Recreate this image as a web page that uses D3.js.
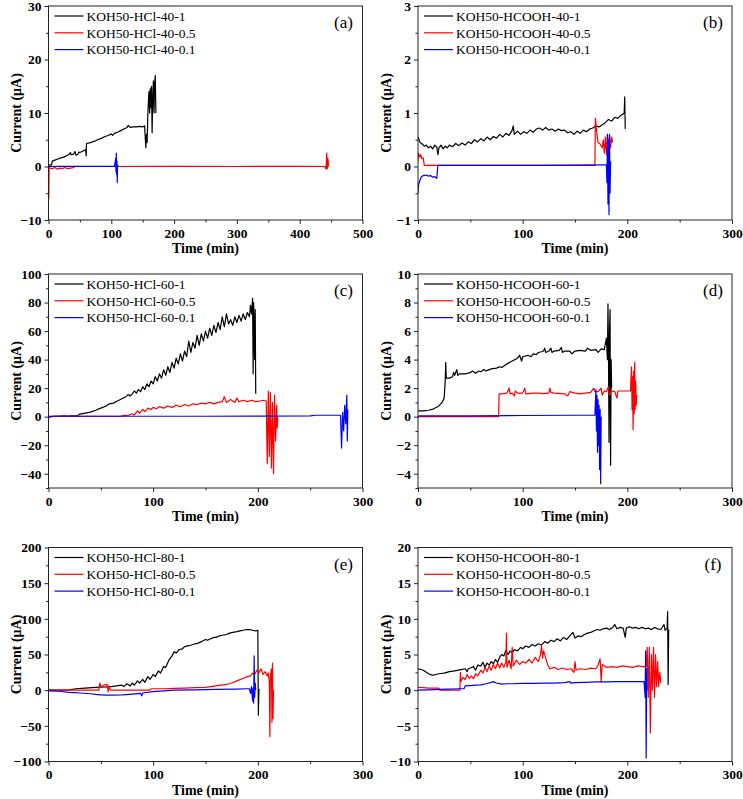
<!DOCTYPE html>
<html>
<head>
<meta charset="utf-8">
<script src="https://cdn.jsdelivr.net/npm/d3@7"></script>
<style>
  body { margin: 0; background: #fff; }
  svg { font-family: "Liberation Serif", "Times New Roman", serif; }
</style>
</head>
<body>
<div id="chart"></div>
<script>
// ---- data: [time (min), current (uA)] ----
var hcl40_1 = [[0,0.2],[3,0.3],[5,0.3],[6,1.0],[10,1.2],[15,1.4],[20,1.6],[25,1.8],[30,2.1],[33,2.3],[35,2.6],[36,2.2],[40,2.3],[42,2.8],[44,2.1],[47,2.3],[48,2.7],[50,2.6],[55,2.9],[59,3.1],[60,2.0],[60.5,4.3],[65,4.4],[70,4.6],[75,4.8],[80,5.1],[85,5.3],[90,5.6],[95,5.8],[100,6.1],[102,5.8],[105,6.2],[110,6.4],[115,6.7],[120,7.0],[125,7.3],[127,7.7],[130,7.3],[135,7.4],[140,7.4],[145,7.5],[150,7.4],[153,7.6],[154,5.5],[155,3.5],[156,6],[157,4.5],[158,9],[159,12],[160,14],[161,10],[162,14.5],[163,11],[164,15],[165,6.3],[166,13],[167,16],[168,10],[169,15.5],[170,17],[171,10]];
var hcl40_05 = [[0,0],[0.5,-6],[1,-0.2],[3,-0.3],[6,-0.4],[10,-0.2],[14,-0.5],[18,-0.3],[22,-0.4],[26,-0.2],[30,-0.4],[35,-0.3],[40,-0.2],[42,0],[100,0],[200,0.02],[300,0],[400,0.02],[440,0],[442,-0.5],[443,2.5],[444,-0.4],[445,1.5],[446,0]];
var hcl40_01 = [[0,0],[20,0.02],[50,0.02],[80,0.03],[105,0.03],[107,1.5],[107.5,-1],[108,2.5],[108.5,-1.5],[109,1],[109.5,-3],[110,0.3],[111,0.05]];

var hcooh40_1 = [[0,0.55],[1,0.5],[2,0.45],[4,0.42],[6,0.38],[8,0.4],[10,0.35],[12,0.38],[14,0.33],[16,0.4],[18,0.36],[19,0.22],[20,0.35],[22,0.4],[24,0.33],[26,0.38],[28,0.35],[30,0.4],[33,0.37],[36,0.43],[39,0.39],[42,0.44],[45,0.4],[48,0.46],[51,0.43],[54,0.5],[57,0.46],[60,0.52],[63,0.48],[66,0.55],[69,0.5],[72,0.56],[75,0.53],[78,0.6],[81,0.55],[84,0.62],[87,0.58],[90,0.68],[91,0.76],[92,0.6],[95,0.66],[98,0.6],[101,0.65],[104,0.62],[107,0.68],[110,0.64],[113,0.7],[116,0.72],[119,0.68],[122,0.73],[125,0.68],[128,0.7],[131,0.66],[134,0.7],[137,0.67],[140,0.68],[143,0.63],[146,0.65],[149,0.6],[152,0.66],[155,0.62],[158,0.68],[161,0.65],[164,0.7],[167,0.72],[170,0.76],[173,0.74],[176,0.78],[179,0.82],[182,0.88],[185,0.85],[188,0.92],[191,0.9],[194,0.96],[196,0.98],[197,1.0],[197.5,1.3],[198,0.7]];
var hcooh40_05 = [[0,0.1],[0.5,0.25],[1.5,0.18],[2.5,0.22],[3.5,0.15],[5,0.16],[6,0.02],[50,0.02],[100,0.02],[169,0.02],[169.5,0.9],[171,0.6],[172,0.45],[174,0.42],[176,0.35],[177,0.5],[178,0.25],[179,0.55],[180,0.22],[181,0.6],[182,0.3],[183,0.58],[184,0.35],[185,0.55],[186,0.45]];
var hcooh40_01 = [[0,-0.5],[0.5,-0.35],[1.5,-0.28],[3,-0.2],[5,-0.17],[8,-0.16],[10,-0.18],[12,-0.17],[14,-0.2],[16,-0.19],[18,-0.22],[19,0.02],[60,0.02],[120,0.02],[178,0.03],[180,0.03],[180.5,-0.3],[181,0.6],[181.5,-0.7],[182,0.5],[182.5,-0.9],[183,0.6],[183.5,-0.5],[184,0.1]];

var hcl60_1 = [[0,0.3],[10,0.4],[20,0.5],[28,0.8],[30,1.8],[35,2.5],[40,3.2],[45,4.5],[50,6],[55,7.5],[58,9],[62,9.5],[66,11],[70,12.5],[74,14],[76,15.5],[78,14.5],[80,16],[82,18],[84,16.5],[86,19],[88,17.5],[90,21],[92,19],[94,23],[96,21],[98,25],[100,23],[102,28],[104,25],[106,30],[108,27],[110,33],[112,29],[114,35],[116,31],[118,38],[120,34],[122,41],[124,37],[126,44],[128,39],[130,46],[132,42],[134,53],[136,45],[138,52],[140,48],[142,57],[144,50],[146,58],[148,53],[150,60],[152,55],[154,62],[156,57],[158,64],[160,59],[162,66],[164,61],[166,70],[168,63],[170,72],[172,65],[174,68],[176,64],[178,70],[180,66],[182,71],[184,67],[186,72],[188,68],[190,73],[192,70],[193,78],[194,72],[195,83],[195.5,30],[196,80],[197,40],[197.5,75],[198,16]];
var hcl60_05 = [[0,0],[12,0.3],[15,1],[17,0.2],[30,0.3],[50,0.3],[69,0.3],[70,0.5],[73,1],[76,0.8],[80,2],[82,1.2],[85,4],[87,2.5],[90,5],[92,3.5],[95,6],[98,5],[100,6.5],[103,5.5],[106,7],[110,6],[114,7.5],[118,6.5],[122,8],[126,7],[130,8.5],[134,7.5],[138,9],[142,8.5],[146,9.5],[150,9],[154,10],[158,9],[162,10],[166,10.5],[168,14],[170,10],[174,12],[178,10],[180,13],[182,10.5],[186,11.5],[190,10.5],[194,11.5],[198,10.5],[202,11],[206,11.5],[208,11],[209,-33],[210,18],[211,-28],[212,17],[213,-36],[214,10],[215,-40],[216,15],[217,-17],[218,8],[218.5,-8],[219,0]];
var hcl60_01 = [[0,-0.5],[5,0.3],[50,0.3],[100,0.3],[150,0.3],[200,0.4],[250,0.5],[255,1],[270,1],[279,1],[280,-22],[281,3],[282,-10],[283,8],[284,-5],[285,15],[285.5,-17],[286,5]];

var hcooh60_1 = [[0,0.4],[5,0.4],[10,0.45],[15,0.55],[20,0.75],[23,1.0],[25,1.3],[26,2.5],[26.5,3.8],[27,2.7],[30,2.7],[33,2.8],[34,3.1],[35,2.9],[37,3.3],[38,2.9],[40,3.0],[45,3.0],[48,3.05],[50,3.1],[52,3.2],[55,3.05],[58,3.2],[60,3.15],[63,3.3],[65,3.2],[68,3.3],[70,3.35],[75,3.4],[78,3.5],[80,3.45],[85,3.7],[90,3.9],[95,4.1],[97,4.3],[99,3.9],[100,4.2],[105,4.3],[108,4.2],[110,4.4],[113,4.35],[115,4.5],[118,4.55],[120,4.6],[121,4.8],[122,4.5],[125,4.6],[127,4.8],[128,4.5],[130,4.6],[135,4.65],[137,4.85],[138,4.5],[140,4.6],[145,4.6],[147,4.4],[150,4.6],[155,4.65],[160,4.6],[162,4.8],[165,4.65],[170,4.7],[172,4.5],[175,4.75],[178,4.7],[180,5.5],[181,4.0],[181.5,7.9],[182,4.5],[182.5,-1.8],[183,6],[183.5,7.5],[184,-3.4],[184.5,4],[185,2]];
var hcooh60_05 = [[0,0],[40,0],[77,0],[77.5,1.6],[80,1.6],[85,1.65],[87,2.0],[88,1.6],[90,1.65],[92,1.45],[93,1.8],[95,1.65],[100,1.65],[102,2.0],[103,1.6],[110,1.65],[115,1.65],[120,1.62],[125,1.65],[126,2.0],[127,1.7],[130,1.65],[140,1.6],[143,1.45],[145,1.75],[150,1.65],[155,1.6],[160,1.65],[165,1.7],[168,2.0],[169,1.75],[172,1.75],[175,2.0],[176,1.5],[178,1.8],[180,1.75],[182,2.1],[183,1.5],[185,1.8],[188,1.75],[190,1.3],[191,1.8],[195,1.8],[200,1.8],[203,1.8],[204,3.5],[204.5,0.5],[205,2.8],[205.5,-0.9],[206,3.2],[206.5,0.2],[207,3.8],[207.5,0.5],[208,2.5],[208.5,0.8],[209,1.5]];
var hcooh60_01 = [[0,-0.1],[1,0.05],[50,0.05],[100,0.08],[150,0.1],[169,0.1],[170,1.9],[170.5,-1],[171,1.5],[171.5,-2.5],[172,1.2],[172.5,-2],[173,0.8],[173.5,-3.7],[174,0.5],[174.5,-4.7],[175,0]];

var hcl80_1 = [[0,0],[10,0],[20,0.5],[26,2],[35,3],[45,4],[55,4.5],[60,5],[65,6],[70,7],[72,5],[75,9],[78,6],[80,10],[82,7],[85,13],[87,10],[90,15],[92,11],[95,19],[97,15],[100,22],[102,19],[105,27],[107,24],[110,33],[112,32],[115,42],[118,48],[120,54],[122,52],[125,57],[128,58],[130,61],[133,62],[136,63],[140,65],[143,66],[146,68],[150,71],[152,70],[155,72],[158,74],[160,74],[163,76],[166,77],[170,78],[173,80],[176,81],[180,82],[183,83],[186,84],[189,85],[192,85],[195,84],[198,83],[200,84],[200.5,-35],[201,0],[202,1]];
var hcl80_05 = [[0,0],[26,0],[40,0],[48,0],[49,10],[50,5],[53,7],[56,8],[57,-2],[58,6],[59,0],[65,0],[80,0],[97,0],[98,2],[110,2],[120,2.5],[130,3],[140,3.5],[150,4],[160,6],[165,7],[170,8],[175,10],[180,13],[185,16],[190,19],[193,20],[195,24],[197,22],[199,28],[201,24],[203,30],[205,22],[207,26],[209,20],[210,24],[211,10],[211.5,-65],[212,20],[213,30],[213.5,-45],[214,38],[214.5,-40],[215,0]];
var hcl80_01 = [[0,-1],[10,-1.5],[20,-3],[25,-3.5],[30,-4],[40,-5],[45,-6],[50,-6.5],[55,-7],[60,-7],[70,-6.5],[80,-5.5],[88,-4.5],[89,-8],[90,-4],[100,-2],[110,-1],[120,0],[140,0.5],[160,1],[180,1.5],[190,2],[192,2],[193,-5],[194,5],[195,-15],[195.5,3],[196,-18],[196.5,48],[197,-10],[197.5,10],[198,0]];

var hcooh80_1 = [[0,3],[3,2.9],[5,2.8],[8,2.5],[10,2.3],[13,2.15],[15,2.1],[17,2.2],[20,2.3],[25,2.4],[30,2.6],[35,2.7],[40,2.85],[45,3.0],[47,2.6],[48,3.0],[50,3.1],[53,3.3],[55,2.8],[57,3.5],[60,3.4],[62,3.9],[64,3.2],[66,3.8],[68,3.5],[70,4.0],[72,3.7],[74,4.3],[76,3.9],[78,4.6],[80,5.0],[82,4.8],[84,5.6],[86,5.0],[88,5.5],[90,5.2],[92,5.7],[95,5.5],[98,6.0],[100,5.8],[103,6.2],[106,6.0],[109,6.4],[112,6.2],[115,6.5],[118,6.3],[121,6.8],[124,6.6],[127,7.0],[130,6.8],[133,7.2],[136,6.9],[139,7.4],[142,7.1],[145,7.6],[148,8.1],[150,7.3],[153,7.6],[156,7.5],[159,7.8],[162,8.0],[165,8.1],[168,8.3],[171,8.5],[174,8.4],[177,8.6],[180,8.7],[183,8.5],[186,8.8],[188,9.2],[190,8.6],[193,8.8],[196,8.7],[198,7.4],[199,8.7],[202,8.9],[205,8.7],[208,8.8],[211,8.6],[214,8.8],[217,8.6],[220,8.7],[223,8.5],[226,8.8],[229,8.6],[232,8.5],[235,9.2],[236,8.4],[238,8.7],[238.5,11],[239,0.8],[239.5,8.5]];
var hcooh80_05 = [[0,0.4],[5,0.35],[10,0.3],[15,0.3],[20,0.3],[20.5,0],[40,0],[40.5,2.5],[41,1.2],[43,1.8],[45,1.5],[47,2.2],[49,1.6],[51,2.0],[53,1.6],[55,2.3],[57,2.0],[60,2.8],[62,2.4],[64,3.2],[66,2.6],[68,3.4],[70,2.8],[72,3.6],[74,3.0],[76,3.8],[78,3.1],[80,3.8],[82,3.2],[84,4.0],[84.5,8.0],[85,3.2],[87,4.2],[89,3.0],[90,6.0],[91,3.4],[94,4.2],[97,3.6],[100,4.0],[103,3.8],[106,4.3],[109,3.8],[112,4.6],[115,4.0],[117,5.0],[118,6.2],[119,4.5],[120,5.5],[122,4.5],[124,3.5],[126,3.0],[130,3.2],[134,2.9],[138,3.1],[142,2.9],[146,3.0],[149,2.5],[150,4.0],[151,2.8],[155,3.0],[160,2.9],[165,3.1],[170,3.0],[172,3.5],[174,4.4],[175,1.2],[176,3.6],[180,3.2],[185,3.3],[190,3.2],[195,3.4],[200,3.3],[205,3.2],[210,3.4],[215,3.3],[218,3.3],[219,6],[220,-1],[221,6],[222,-6],[223,5],[224,0],[225,6],[226,-1],[227,5],[228,0.5],[229,4],[230,0.5],[231,2.5],[232,1]];
var hcooh80_01 = [[0,0],[10,0.05],[20,0.1],[30,0.15],[40,0.2],[44,0.2],[45,0.6],[50,0.65],[55,0.7],[60,0.75],[65,0.9],[70,1.1],[72,1.2],[75,1.0],[80,0.85],[85,0.9],[90,0.9],[100,0.95],[110,0.95],[120,1.0],[130,1.0],[140,1.05],[145,1.2],[146,1.0],[150,1.05],[160,1.1],[170,1.15],[180,1.15],[190,1.2],[200,1.2],[210,1.2],[216,1.2],[217,-1],[217.5,5.5],[218,-9.5],[218.5,3],[219,0]];

// tick labels and legend names per panel
var panelLabels = ["(a)", "(b)", "(c)", "(d)", "(e)", "(f)"];
var xTicksA = [0, 100, 200, 300, 400, 500];
var xTicks300 = [0, 100, 200, 300];
var yTicksA = [-10, 0, 10, 20, 30];
var yTicksB = [-1, 0, 1, 2, 3];
var yTicksC = [-40, -20, 0, 20, 40, 60, 80, 100];
var yTicksD = [-4, -2, 0, 2, 4, 6, 8, 10];
var yTicksE = [-100, -50, 0, 50, 100, 150, 200];
var yTicksF = [-10, -5, 0, 5, 10, 15, 20];
var namesA = ["KOH50-HCl-40-1", "KOH50-HCl-40-0.5", "KOH50-HCl-40-0.1"];
var namesB = ["KOH50-HCOOH-40-1", "KOH50-HCOOH-40-0.5", "KOH50-HCOOH-40-0.1"];
var namesC = ["KOH50-HCl-60-1", "KOH50-HCl-60-0.5", "KOH50-HCl-60-0.1"];
var namesD = ["KOH50-HCOOH-60-1", "KOH50-HCOOH-60-0.5", "KOH50-HCOOH-60-0.1"];
var namesE = ["KOH50-HCl-80-1", "KOH50-HCl-80-0.5", "KOH50-HCl-80-0.1"];
var namesF = ["KOH50-HCOOH-80-1", "KOH50-HCOOH-80-0.5", "KOH50-HCOOH-80-0.1"];

var colors = ["#000000", "#ff0000", "#0000ff"];

var panels = [
  {series: [hcl40_1, hcl40_05, hcl40_01], names: namesA, xd: [0, 500], xt: xTicksA, xm: 50, yd: [-10, 30], yt: yTicksA, ym: 5},
  {series: [hcooh40_1, hcooh40_05, hcooh40_01], names: namesB, xd: [0, 300], xt: xTicks300, xm: 50, yd: [-1, 3], yt: yTicksB, ym: 0.5},
  {series: [hcl60_1, hcl60_05, hcl60_01], names: namesC, xd: [0, 300], xt: xTicks300, xm: 50, yd: [-50, 100], yt: yTicksC, ym: 10},
  {series: [hcooh60_1, hcooh60_05, hcooh60_01], names: namesD, xd: [0, 300], xt: xTicks300, xm: 50, yd: [-5, 10], yt: yTicksD, ym: 1},
  {series: [hcl80_1, hcl80_05, hcl80_01], names: namesE, xd: [0, 300], xt: xTicks300, xm: 50, yd: [-100, 200], yt: yTicksE, ym: 25},
  {series: [hcooh80_1, hcooh80_05, hcooh80_01], names: namesF, xd: [0, 300], xt: xTicks300, xm: 50, yd: [-10, 20], yt: yTicksF, ym: 2.5}
];

// layout
var W = 743, H = 799;
var colX = [48.5, 418];
var rowY = [6, 274, 547.5];
var pw = 314, ph = 214;

var svg = d3.select("#chart").append("svg")
  .attr("width", W)
  .attr("height", H);

panels.forEach(function(p, i) {
  var left = colX[i % 2], top = rowY[Math.floor(i / 2)];
  var g = svg.append("g").attr("transform", "translate(" + left + "," + top + ")");

  var x = d3.scaleLinear().domain(p.xd).range([0, pw]);
  var y = d3.scaleLinear().domain(p.yd).range([ph, 0]);

  g.append("clipPath").attr("id", "clip" + i)
    .append("rect").attr("width", pw).attr("height", ph);

  // minor ticks
  var xMinor = d3.range(p.xd[0], p.xd[1] + 1e-9, p.xm).filter(function(v) { return p.xt.indexOf(v) < 0; });
  var yMinor = d3.range(p.yd[0], p.yd[1] + 1e-9, p.ym).filter(function(v) {
    return !p.yt.some(function(t) { return Math.abs(t - v) < 1e-9; });
  });

  g.append("g")
    .attr("transform", "translate(0," + ph + ")")
    .call(d3.axisBottom(x).tickValues(xMinor).tickSize(2.5).tickFormat(""))
    .call(function(s) { s.select(".domain").remove(); });
  g.append("g")
    .call(d3.axisLeft(y).tickValues(yMinor).tickSize(2.5).tickFormat(""))
    .call(function(s) { s.select(".domain").remove(); });

  // major axes
  var xa = g.append("g")
    .attr("transform", "translate(0," + ph + ")")
    .call(d3.axisBottom(x).tickValues(p.xt).tickSize(4).tickPadding(4).tickFormat(d3.format("d")));
  var ya = g.append("g")
    .call(d3.axisLeft(y).tickValues(p.yt).tickSize(4).tickPadding(3).tickFormat(d3.format("d")));
  [xa, ya].forEach(function(a) {
    a.select(".domain").remove();
    a.selectAll("text")
      .style("font-family", "'Liberation Serif', serif")
      .style("font-size", "13.5px")
      .style("font-weight", "bold")
      .attr("fill", "#000");
  });
  g.selectAll(".tick line").attr("stroke", "#222");

  // traces
  var line = d3.line()
    .x(function(d) { return x(d[0]); })
    .y(function(d) { return y(d[1]); });

  var traces = g.append("g").attr("clip-path", "url(#clip" + i + ")");
  p.series.forEach(function(s, k) {
    traces.append("path")
      .datum(s)
      .attr("fill", "none")
      .attr("stroke", colors[k])
      .attr("stroke-width", 1.2)
      .attr("stroke-linejoin", "round")
      .attr("d", line);
  });

  // frame
  g.append("rect")
    .attr("width", pw)
    .attr("height", ph)
    .attr("fill", "none")
    .attr("stroke", "#222")
    .attr("stroke-width", 1);

  // legend
  var lg = g.append("g").attr("transform", "translate(6,10)");
  p.names.forEach(function(n, k) {
    var row = lg.append("g").attr("transform", "translate(0," + (k * 16.8) + ")");
    row.append("line")
      .attr("x1", 0).attr("x2", 29)
      .attr("stroke", colors[k])
      .attr("stroke-width", 1.2);
    row.append("text")
      .attr("x", 32)
      .attr("dy", "0.35em")
      .style("font-size", "13.5px")
      .text(n);
  });

  // panel label
  g.append("text")
    .attr("x", pw - 19)
    .attr("y", 22)
    .attr("text-anchor", "middle")
    .style("font-size", "17px")
    .text(panelLabels[i]);

  // axis titles
  g.append("text")
    .attr("x", pw / 2)
    .attr("y", ph + 33)
    .attr("text-anchor", "middle")
    .style("font-size", "14px")
    .style("font-weight", "bold")
    .text("Time (min)");

  g.append("text")
    .attr("transform", "translate(-32," + (ph / 2) + ") rotate(-90)")
    .attr("text-anchor", "middle")
    .attr("dy", "0.35em")
    .style("font-size", "14px")
    .style("font-weight", "bold")
    .text("Current (\u03bcA)");
});
</script>
</body>
</html>
